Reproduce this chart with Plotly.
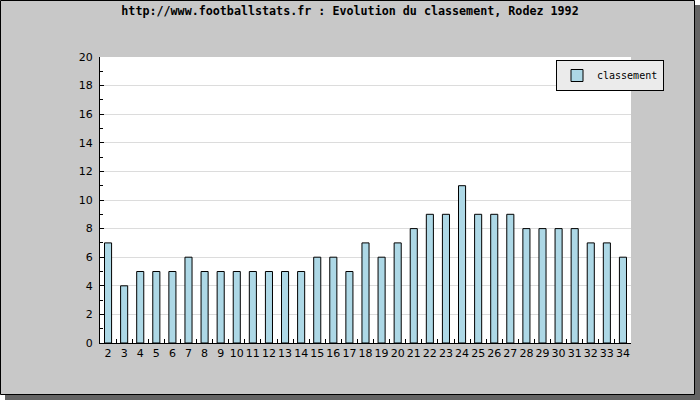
import plotly.graph_objects as go

title_text = "http://www.footballstats.fr : Evolution du classement, Rodez 1992"
journees = [str(i) for i in range(2, 35)]
classement = [7, 4, 5, 5, 5, 6, 5, 5, 5, 5, 5, 5, 5, 6, 6, 5, 7, 6, 7, 8, 9, 9, 11, 9, 9, 9, 8, 8, 8, 8, 7, 7, 6]
y_ticks = list(range(0, 21, 2))

W, H = 700, 400
L, R, T, B = 100, 69, 57, 57
pw, ph = W - L - R, H - T - B

def px(x):
    return (x - L) / pw

def py(y):
    return (H - B - y) / ph

fig = go.Figure()
fig.add_trace(go.Bar(
    x=journees, y=classement, name="classement",
    marker=dict(color="#add8e6", line=dict(color="black", width=1)),
    showlegend=True,
))

shapes = [
    dict(type="rect", xref="paper", yref="paper", x0=px(5), x1=px(700), y0=py(400), y1=py(5),
         fillcolor="#646464", line=dict(width=0), layer="below"),
    dict(type="rect", xref="paper", yref="paper", x0=px(0.5), x1=px(694.5), y0=py(394.5), y1=py(0.5),
         fillcolor="#c8c8c8", line=dict(color="black", width=1), layer="below"),
    dict(type="rect", xref="paper", yref="paper", x0=0, x1=1, y0=0, y1=1,
         fillcolor="white", line=dict(width=0), layer="below"),
]

fig.update_layout(
    width=W, height=H,
    margin=dict(l=L, r=R, t=T, b=B),
    paper_bgcolor="white",
    plot_bgcolor="rgba(0,0,0,0)",
    shapes=shapes,
    bargap=0.56,
    title=dict(text="<b>" + title_text + "</b>", x=0.5, xref="container", xanchor="center",
               y=1 - 11 / H, yanchor="middle", yref="container",
               font=dict(family="DejaVu Sans Mono", size=11.7, color="black")),
    font=dict(family="DejaVu Sans", size=11, color="black"),
    legend=dict(x=px(664), y=py(60), xanchor="right", yanchor="top",
                bgcolor="#ebebeb", bordercolor="black", borderwidth=1,
                font=dict(family="DejaVu Sans Mono", size=10, color="black"),
                itemwidth=30, tracegroupgap=0),
    xaxis=dict(type="category", showline=True, linecolor="black", linewidth=1,
               showgrid=False, ticks="inside", ticklen=4, tickcolor="black",
               tickson="boundaries", tickangle=0, tickfont=dict(size=11), range=[-0.5, 32.5]),
    yaxis=dict(range=[0, 20], tickvals=y_ticks, showline=True, linecolor="black", linewidth=1,
               showgrid=True, gridcolor="#dcdcdc", gridwidth=1, zeroline=False,
               ticks="inside", ticklen=4, tickcolor="black", ticklabelstandoff=4,
               minor=dict(dtick=1, ticks="inside", ticklen=3, tickcolor="black", showgrid=False),
               tickfont=dict(size=11)),
)

fig.write_html("out.html", config={"displayModeBar": False},
               post_script="document.body.style.margin='0';")
